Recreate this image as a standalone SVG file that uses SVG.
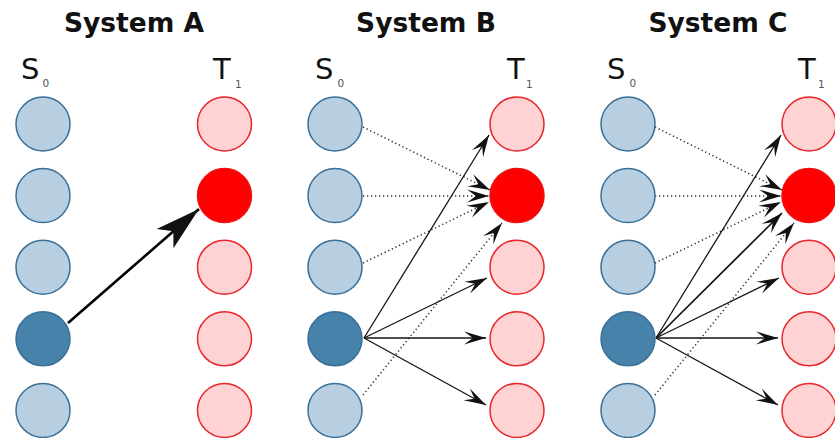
<svg xmlns="http://www.w3.org/2000/svg" width="835" height="438" viewBox="0 0 835 438">
  <style>
    .title { font-family: "DejaVu Sans", sans-serif; font-weight: bold; font-size: 26.5px; fill: #111; text-anchor: middle; }
    .lbl { font-family: "DejaVu Sans", sans-serif; font-size: 29px; fill: #111; }
    .sub { font-family: "DejaVu Sans", sans-serif; font-size: 10.5px; fill: #555; }
    .src { fill: #b7cfe0; stroke: #3a6f98; stroke-width: 1.5; }
    .src-on { fill: #4682a9; stroke: #3a6f98; stroke-width: 1.5; }
    .tgt { fill: #ffd2d3; stroke: #e8262b; stroke-width: 1.5; }
    .tgt-on { fill: #ff0000; stroke: #f01010; stroke-width: 1.5; }
    .solid { stroke: #151515; stroke-width: 1.3; fill: none; marker-end: url(#head); }
    .bold { stroke: #111; stroke-width: 1.7; fill: none; marker-end: url(#head); }
    .big { stroke: #000; stroke-width: 2.6; fill: none; marker-end: url(#headBig); }
    .dot { stroke: #333; stroke-width: 1.5; stroke-dasharray: 1.3 2.7; fill: none; marker-end: url(#head); }
  </style>
  <defs>
    <!-- swept-back arrowheads: small for the B/C fan, large for A -->
    <marker id="head" markerUnits="userSpaceOnUse" viewBox="-24 -8 25 16" markerWidth="25" markerHeight="16" refX="0" refY="0" orient="auto">
      <path d="M0,0 L-22,-6.6 L-13,0 L-22,6.6 Z" fill="#111"/>
    </marker>
    <marker id="headBig" markerUnits="userSpaceOnUse" viewBox="-47 -14 48 28" markerWidth="48" markerHeight="28" refX="0" refY="0" orient="auto">
      <path d="M0,0 L-45,-12.8 L-34,0 L-45,12.8 Z" fill="#111"/>
    </marker>
  </defs>

  <rect width="835" height="438" fill="#fff"/>

  <!-- column headings -->
  <g id="titles">
    <text class="title" x="134" y="32">System A</text>
    <text class="title" x="426" y="32">System B</text>
    <text class="title" x="718" y="32">System C</text>
  </g>
  <g id="labels">
    <text class="lbl" x="21" y="79">S</text><text class="sub" x="42.5" y="87">0</text>
    <text class="lbl" x="213" y="79">T</text><text class="sub" x="235" y="88">1</text>
    <text class="lbl" x="315" y="79">S</text><text class="sub" x="337.5" y="87">0</text>
    <text class="lbl" x="507" y="79">T</text><text class="sub" x="526" y="88">1</text>
    <text class="lbl" x="607" y="79">S</text><text class="sub" x="629.5" y="87">0</text>
    <text class="lbl" x="798" y="79">T</text><text class="sub" x="818" y="88">1</text>
  </g>

  <!-- connectors -->
  <g id="connectors">
    <!-- System A -->
    <path class="big" d="M68,323 L199,209"/>
    <!-- System B -->
    <path class="dot" d="M363,127 L490,190"/>
    <path class="dot" d="M363,196 L489,196"/>
    <path class="dot" d="M363,263 L489,202"/>
    <path class="dot" d="M363,395 L502,223"/>
    <path class="solid" d="M364,338 L489,135"/>
    <path class="solid" d="M364,338 L487,278"/>
    <path class="solid" d="M364,338 L486,338"/>
    <path class="solid" d="M364,338 L486,405"/>
    <!-- System C -->
    <path class="dot" d="M655,127 L782,190"/>
    <path class="dot" d="M655,196 L781,196"/>
    <path class="dot" d="M655,263 L781,202"/>
    <path class="dot" d="M655,395 L794,223"/>
    <path class="solid" d="M656,338 L781,135"/>
    <path class="bold" d="M656,338 L782,213"/>
    <path class="solid" d="M656,338 L779,278"/>
    <path class="solid" d="M656,338 L778,338"/>
    <path class="solid" d="M656,338 L778,405"/>
  </g>

  <!-- System A nodes -->
  <g id="A-s0"><circle class="src" cx="43" cy="124" r="27"/></g>
  <g id="A-s1"><circle class="src" cx="43" cy="195.6" r="27"/></g>
  <g id="A-s2"><circle class="src" cx="43" cy="267.2" r="27"/></g>
  <g id="A-s3"><circle class="src-on" cx="43" cy="338.8" r="27"/></g>
  <g id="A-s4"><circle class="src" cx="43" cy="410.4" r="27"/></g>
  <g id="A-t0"><circle class="tgt" cx="224.5" cy="124" r="27"/></g>
  <g id="A-t1"><circle class="tgt-on" cx="224.5" cy="195.6" r="27"/></g>
  <g id="A-t2"><circle class="tgt" cx="224.5" cy="267.2" r="27"/></g>
  <g id="A-t3"><circle class="tgt" cx="224.5" cy="338.8" r="27"/></g>
  <g id="A-t4"><circle class="tgt" cx="224.5" cy="410.4" r="27"/></g>

  <!-- System B nodes -->
  <g id="B-s0"><circle class="src" cx="335" cy="124" r="27"/></g>
  <g id="B-s1"><circle class="src" cx="335" cy="195.6" r="27"/></g>
  <g id="B-s2"><circle class="src" cx="335" cy="267.2" r="27"/></g>
  <g id="B-s3"><circle class="src-on" cx="335" cy="338.8" r="27"/></g>
  <g id="B-s4"><circle class="src" cx="335" cy="410.4" r="27"/></g>
  <g id="B-t0"><circle class="tgt" cx="517" cy="124" r="27"/></g>
  <g id="B-t1"><circle class="tgt-on" cx="517" cy="195.6" r="27"/></g>
  <g id="B-t2"><circle class="tgt" cx="517" cy="267.2" r="27"/></g>
  <g id="B-t3"><circle class="tgt" cx="517" cy="338.8" r="27"/></g>
  <g id="B-t4"><circle class="tgt" cx="517" cy="410.4" r="27"/></g>

  <!-- System C nodes -->
  <g id="C-s0"><circle class="src" cx="628" cy="124" r="27"/></g>
  <g id="C-s1"><circle class="src" cx="628" cy="195.6" r="27"/></g>
  <g id="C-s2"><circle class="src" cx="628" cy="267.2" r="27"/></g>
  <g id="C-s3"><circle class="src-on" cx="628" cy="338.8" r="27"/></g>
  <g id="C-s4"><circle class="src" cx="628" cy="410.4" r="27"/></g>
  <g id="C-t0"><circle class="tgt" cx="809" cy="124" r="27"/></g>
  <g id="C-t1"><circle class="tgt-on" cx="809" cy="195.6" r="27"/></g>
  <g id="C-t2"><circle class="tgt" cx="809" cy="267.2" r="27"/></g>
  <g id="C-t3"><circle class="tgt" cx="809" cy="338.8" r="27"/></g>
  <g id="C-t4"><circle class="tgt" cx="809" cy="410.4" r="27"/></g>
</svg>
